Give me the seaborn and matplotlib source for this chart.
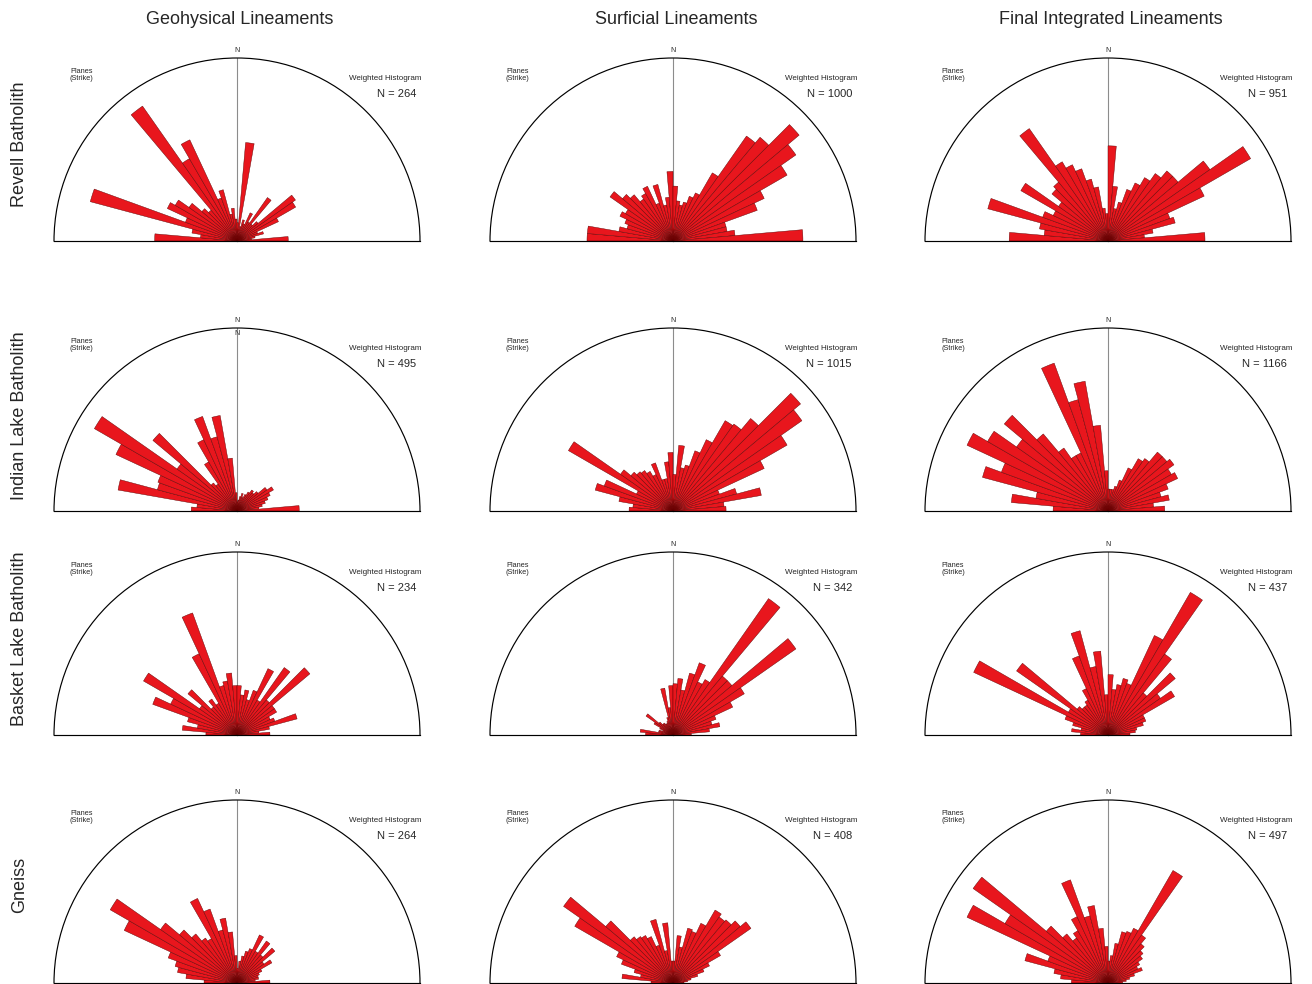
import numpy as np
import matplotlib
matplotlib.use("Agg")
import matplotlib.pyplot as plt
import seaborn as sns

sns.set_style("white")
plt.rcParams['font.family'] = ['Liberation Sans', 'DejaVu Sans']

# ---------------- data ----------------
bin_centers = np.arange(-87.5, 90, 5)   # strike bins (deg from N, clockwise), 5 deg wide

col_titles = ["Geohysical Lineaments", "Surficial Lineaments", "Final Integrated Lineaments"]
row_titles = ["Revell Batholith", "Indian Lake Batholith", "Basket Lake Batholith", "Gneiss"]
n_counts = [[264, 1000, 951], [495, 1015, 1166], [234, 342, 437], [264, 408, 497]]

revell_geo = [45, 20, 25, 83, 30, 42, 39, 32, 25, 22, 90, 52, 61, 25, 29, 15, 18, 12,
              10, 54, 8, 12, 10, 17, 12, 29, 12, 15, 39, 37, 25, 12, 15, 10, 8, 28]
revell_surf = [47, 47, 30, 26, 28, 32, 30, 42, 36, 33, 28, 30, 33, 22, 32, 20, 24, 38,
               30, 22, 20, 22, 26, 29, 43, 70, 74, 90, 82, 72, 55, 49, 30, 30, 34, 71]
revell_final = [54, 35, 38, 68, 38, 33, 55, 33, 40, 42, 75, 50, 46, 42, 35, 30, 18, 15,
                52, 30, 18, 22, 30, 35, 40, 45, 50, 50, 68, 90, 58, 36, 38, 25, 20, 53]

indian_geo = [25, 22, 66, 45, 46, 73, 90, 40, 60, 20, 18, 31, 43, 55, 42, 53, 29, 10,
              5, 6, 8, 10, 8, 10, 12, 14, 13, 15, 20, 23, 20, 18, 16, 14, 12, 34]
indian_surf = [24, 22, 30, 44, 40, 22, 66, 35, 30, 28, 27, 25, 22, 28, 18, 18, 27, 32,
               20, 36, 24, 26, 35, 43, 57, 58, 66, 91, 86, 72, 55, 27, 36, 49, 28, 29]
indian_final = [30, 53, 40, 71, 62, 85, 76, 61, 74, 55, 42, 35, 35, 86, 63, 72, 47, 22,
                12, 12, 12, 14, 18, 26, 33, 35, 42, 42, 44, 40, 42, 35, 30, 34, 25, 31]

basket_geo = [17, 30, 22, 28, 49, 40, 59, 25, 35, 20, 24, 20, 49, 71, 28, 30, 34, 27,
              27, 22, 25, 20, 26, 40, 22, 45, 25, 52, 25, 25, 20, 22, 34, 18, 12, 18]
basket_surf = [15, 18, 8, 8, 6, 8, 12, 18, 10, 8, 8, 7, 7, 8, 10, 26, 15, 27,
               28, 31, 25, 35, 42, 32, 35, 91, 42, 42, 82, 45, 36, 25, 22, 26, 20, 10]
basket_final = [15, 20, 15, 20, 25, 81, 25, 61, 22, 20, 20, 22, 28, 46, 59, 38, 46, 22,
                33, 25, 28, 32, 30, 60, 90, 54, 30, 48, 35, 42, 22, 22, 20, 16, 15, 12]

gneiss_geo = [18, 28, 33, 35, 40, 68, 80, 51, 41, 35, 30, 28, 51, 43, 30, 36, 28, 15,
              8, 12, 15, 18, 20, 29, 20, 28, 20, 27, 18, 22, 15, 13, 12, 12, 10, 18]
gneiss_surf = [12, 28, 18, 22, 30, 34, 62, 73, 48, 33, 31, 30, 28, 22, 36, 18, 33, 12,
               12, 26, 20, 31, 30, 36, 46, 44, 45, 48, 52, 30, 22, 18, 14, 10, 8, 6]
gneiss_final = [20, 26, 30, 47, 35, 85, 65, 90, 44, 35, 30, 33, 40, 60, 38, 43, 30, 20,
                12, 15, 22, 29, 30, 33, 71, 32, 28, 25, 23, 20, 18, 20, 15, 12, 10, 8]

panels = [[revell_geo, revell_surf, revell_final],
          [indian_geo, indian_surf, indian_final],
          [basket_geo, basket_surf, basket_final],
          [gneiss_geo, gneiss_surf, gneiss_final]]

# ---------------- layout ----------------
W, H = 1312, 984
fig = plt.figure(figsize=(W / 100, H / 100), dpi=100)
fig.patch.set_facecolor("white")

col_cx = [237, 673, 1108]
row_cy = [241, 511, 735, 983]
R = 183
bar_red = "#E8161D"
edge_col = "#5a0000"


def fx(x):
    return x / W


def fy(y):
    return 1 - y / H


for i, cy in enumerate(row_cy):
    for j, cx in enumerate(col_cx):
        # square box: the half-disc is fitted to its full width and centred vertically
        ax = fig.add_axes([fx(cx - R), (H - cy - R / 2) / H, 2 * R / W, 2 * R / H],
                          projection="polar")
        ax.set_theta_zero_location("N")
        ax.set_theta_direction(-1)
        ax.set_thetamin(-90)
        ax.set_thetamax(90)
        ax.set_ylim(0, 100)
        ax.plot([0, 0], [0, 100], color="#8c8c8c", lw=0.8, zorder=1)
        ax.bar(np.deg2rad(bin_centers), panels[i][j], width=np.deg2rad(5),
               color=bar_red, edgecolor=edge_col, linewidth=0.3, zorder=2)
        ax.set_xticks([])
        ax.set_yticks([])
        ax.grid(False)
        ax.patch.set_alpha(0)
        for name, sp in ax.spines.items():
            sp.set_color("black")
            sp.set_linewidth(0.85)
        ax.spines["inner"].set_visible(False)

        fig.text(fx(cx), fy(cy - 191), "N", ha="center", va="center", fontsize=5)
        if i == 1 and j == 0:
            fig.text(fx(cx), fy(cy - 177), "N", ha="center", va="center", fontsize=5)
        fig.text(fx(cx - 167), fy(cy - 166), "Planes\n(Strike)", ha="left", va="center",
                 fontsize=5.3, linespacing=1.0)
        fig.text(fx(cx + 184), fy(cy - 162), "Weighted Histogram", ha="right", va="center",
                 fontsize=5.8)
        fig.text(fx(cx + 179), fy(cy - 147), f"N = {n_counts[i][j]}", ha="right", va="center",
                 fontsize=8)

for j, cx in enumerate(col_cx):
    fig.text(fx(cx + 3), fy(19), col_titles[j], ha="center", va="center", fontsize=13)

row_label_y = [144, 416, 639, 885]
for i, ly in enumerate(row_label_y):
    fig.text(fx(20), fy(ly), row_titles[i], ha="center", va="center", rotation=90, fontsize=13)

fig.savefig("out.png", dpi=100, facecolor="white")
